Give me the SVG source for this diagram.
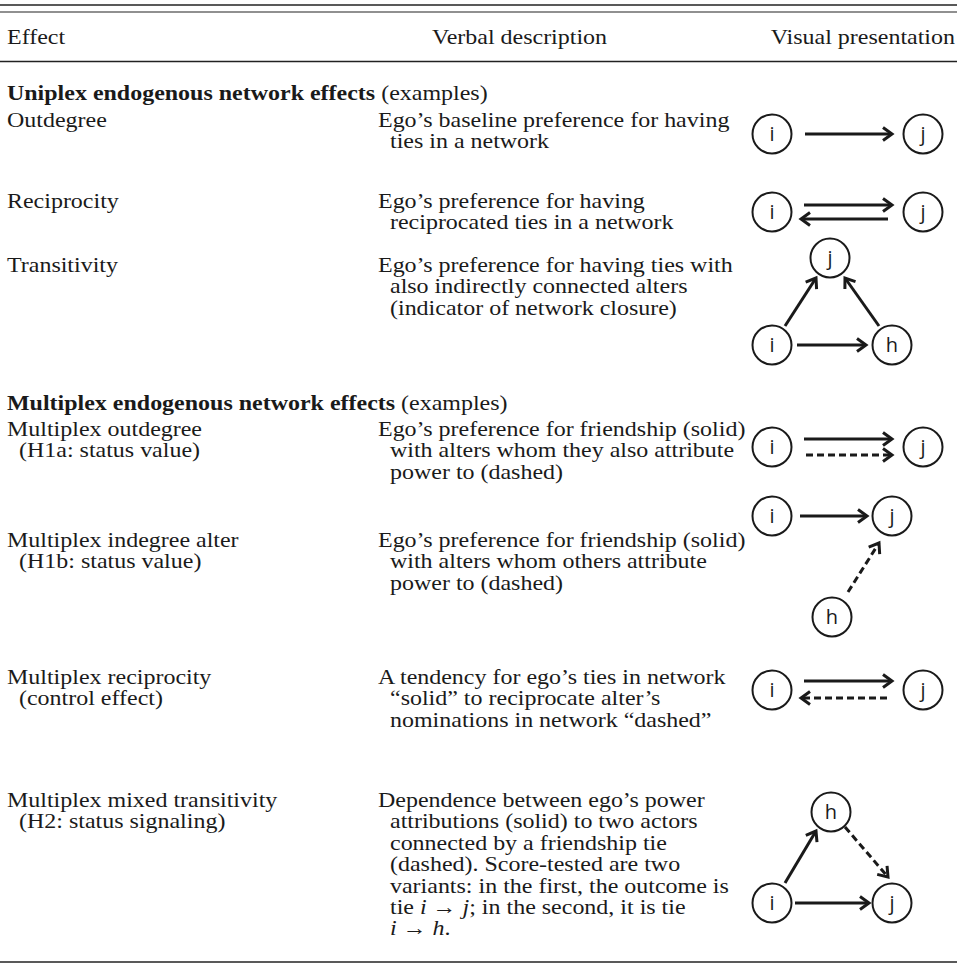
<svg xmlns="http://www.w3.org/2000/svg" width="957" height="967" viewBox="0 0 957 967">
<style>
.t{font-family:"Liberation Serif","Times New Roman",serif;font-size:22px;fill:#1a1a1a}
.b{font-weight:bold}
.it{font-style:italic}
.rule{stroke:#222;stroke-width:1.6}
.n circle{fill:#fff;stroke:#1a1a1a;stroke-width:2}
.n text{font-family:"Open Sans","DejaVu Sans",sans-serif;font-size:20px;fill:#1a1a1a;text-anchor:middle}
.e{stroke:#1a1a1a;stroke-width:3;fill:none}
.d{stroke-dasharray:7 4}
</style>
<defs>
<marker id="ah" viewBox="0 0 14 16" markerWidth="14" markerHeight="16" refX="11" refY="8" orient="auto" markerUnits="userSpaceOnUse" overflow="visible">
<path d="M2,1.5 L11,8 L2,14.5" fill="none" stroke="#1a1a1a" stroke-width="3" stroke-linejoin="miter"/>
</marker>
</defs>
<rect width="957" height="967" fill="#fff"/>
<g id="rules">
<line class="rule" x1="0" y1="5" x2="957" y2="5"/>
<line class="rule" x1="0" y1="12" x2="957" y2="12" style="stroke-width:1.2"/>
<line class="rule" x1="0" y1="61.5" x2="957" y2="61.5"/>
<line class="rule" x1="0" y1="962" x2="957" y2="962"/>
</g>
<g id="header" class="t" transform="scale(1.09 1)">
<text x="6.42" y="44">Effect</text>
<text x="396.33" y="44">Verbal description</text>
<text x="876.15" y="44" text-anchor="end">Visual presentation</text>
</g>
<g id="col-effect" class="t" transform="scale(1.09 1)">
<text x="6.42" y="100"><tspan class="b">Uniplex endogenous network effects</tspan> (examples)</text>
<text x="6.42" y="127">Outdegree</text>
<text x="6.42" y="208">Reciprocity</text>
<text x="6.42" y="272">Transitivity</text>
<text x="6.42" y="410"><tspan class="b">Multiplex endogenous network effects</tspan> (examples)</text>
<text x="6.42" y="436">Multiplex outdegree</text>
<text x="17.43" y="457.4">(H1a: status value)</text>
<text x="6.42" y="547">Multiplex indegree alter</text>
<text x="17.43" y="568.4">(H1b: status value)</text>
<text x="6.42" y="684">Multiplex reciprocity</text>
<text x="17.43" y="705.4">(control effect)</text>
<text x="6.42" y="807">Multiplex mixed transitivity</text>
<text x="17.43" y="828.4">(H2: status signaling)</text>
</g>
<g id="col-desc" class="t" transform="scale(1.09 1)">
<text x="346.79" y="127">Ego’s baseline preference for having</text>
<text x="357.8" y="148.4">ties in a network</text>
<text x="346.79" y="208">Ego’s preference for having</text>
<text x="357.8" y="229.4">reciprocated ties in a network</text>
<text x="346.79" y="272">Ego’s preference for having ties with</text>
<text x="357.8" y="293.4">also indirectly connected alters</text>
<text x="357.8" y="314.8">(indicator of network closure)</text>
<text x="346.79" y="436">Ego’s preference for friendship (solid)</text>
<text x="357.8" y="457.4">with alters whom they also attribute</text>
<text x="357.8" y="478.8">power to (dashed)</text>
<text x="346.79" y="547">Ego’s preference for friendship (solid)</text>
<text x="357.8" y="568.4">with alters whom others attribute</text>
<text x="357.8" y="589.8">power to (dashed)</text>
<text x="346.79" y="684">A tendency for ego’s ties in network</text>
<text x="357.8" y="705.4">“solid” to reciprocate alter’s</text>
<text x="357.8" y="726.8">nominations in network “dashed”</text>
<text x="346.79" y="807">Dependence between ego’s power</text>
<text x="357.8" y="828.4">attributions (solid) to two actors</text>
<text x="357.8" y="849.8">connected by a friendship tie</text>
<text x="357.8" y="871.2">(dashed). Score-tested are two</text>
<text x="357.8" y="892.6">variants: in the first, the outcome is</text>
<text x="357.8" y="914">tie <tspan class="it">i</tspan> → <tspan class="it">j</tspan>; in the second, it is tie</text>
<text x="357.8" y="935.4"><tspan class="it">i</tspan> → <tspan class="it">h</tspan>.</text>
</g>
<g id="connectors">
<line class="e" x1="805" y1="134" x2="892" y2="134" marker-end="url(#ah)"/>
<line class="e" x1="804" y1="205" x2="892" y2="205" marker-end="url(#ah)"/>
<line class="e" x1="888" y1="219" x2="801" y2="219" marker-end="url(#ah)"/>
<line class="e" x1="785" y1="326" x2="816" y2="278" marker-end="url(#ah)"/>
<line class="e" x1="879" y1="326" x2="845" y2="278" marker-end="url(#ah)"/>
<line class="e" x1="797" y1="345" x2="866" y2="345" marker-end="url(#ah)"/>
<line class="e" x1="804" y1="439" x2="892" y2="439" marker-end="url(#ah)"/>
<line class="e d" x1="806" y1="455" x2="892" y2="455" marker-end="url(#ah)"/>
<line class="e" x1="800" y1="516" x2="867" y2="516" marker-end="url(#ah)"/>
<line class="e d" x1="848" y1="592" x2="879" y2="543" marker-end="url(#ah)"/>
<line class="e" x1="804" y1="681" x2="892" y2="681" marker-end="url(#ah)"/>
<line class="e d" x1="887" y1="698" x2="801" y2="698" marker-end="url(#ah)"/>
<line class="e" x1="785" y1="883" x2="816" y2="831" marker-end="url(#ah)"/>
<line class="e d" x1="845" y1="827" x2="888" y2="877" marker-end="url(#ah)"/>
<line class="e" x1="795" y1="903" x2="869" y2="903" marker-end="url(#ah)"/>
</g>
<g id="outdegree-i" class="n"><circle cx="772" cy="134" r="19.5"/><text x="772" y="141">i</text></g>
<g id="outdegree-j" class="n"><circle cx="923" cy="134" r="19.5"/><text x="923" y="141">j</text></g>
<g id="reciprocity-i" class="n"><circle cx="772" cy="212" r="19.5"/><text x="772" y="219">i</text></g>
<g id="reciprocity-j" class="n"><circle cx="923" cy="212" r="19.5"/><text x="923" y="219">j</text></g>
<g id="transitivity-j" class="n"><circle cx="830" cy="258" r="19.5"/><text x="830" y="265">j</text></g>
<g id="transitivity-i" class="n"><circle cx="772" cy="345" r="19.5"/><text x="772" y="352">i</text></g>
<g id="transitivity-h" class="n"><circle cx="892" cy="345" r="19.5"/><text x="892" y="352">h</text></g>
<g id="mout-i" class="n"><circle cx="772" cy="447" r="19.5"/><text x="772" y="454">i</text></g>
<g id="mout-j" class="n"><circle cx="923" cy="447" r="19.5"/><text x="923" y="454">j</text></g>
<g id="mind-i" class="n"><circle cx="772" cy="516" r="19.5"/><text x="772" y="523">i</text></g>
<g id="mind-j" class="n"><circle cx="892" cy="516" r="19.5"/><text x="892" y="523">j</text></g>
<g id="mind-h" class="n"><circle cx="832" cy="617" r="19.5"/><text x="832" y="624">h</text></g>
<g id="mrec-i" class="n"><circle cx="772" cy="690" r="19.5"/><text x="772" y="697">i</text></g>
<g id="mrec-j" class="n"><circle cx="923" cy="690" r="19.5"/><text x="923" y="697">j</text></g>
<g id="mtrans-h" class="n"><circle cx="831" cy="812" r="19.5"/><text x="831" y="819">h</text></g>
<g id="mtrans-i" class="n"><circle cx="772" cy="903" r="19.5"/><text x="772" y="910">i</text></g>
<g id="mtrans-j" class="n"><circle cx="892" cy="903" r="19.5"/><text x="892" y="910">j</text></g>
</svg>
